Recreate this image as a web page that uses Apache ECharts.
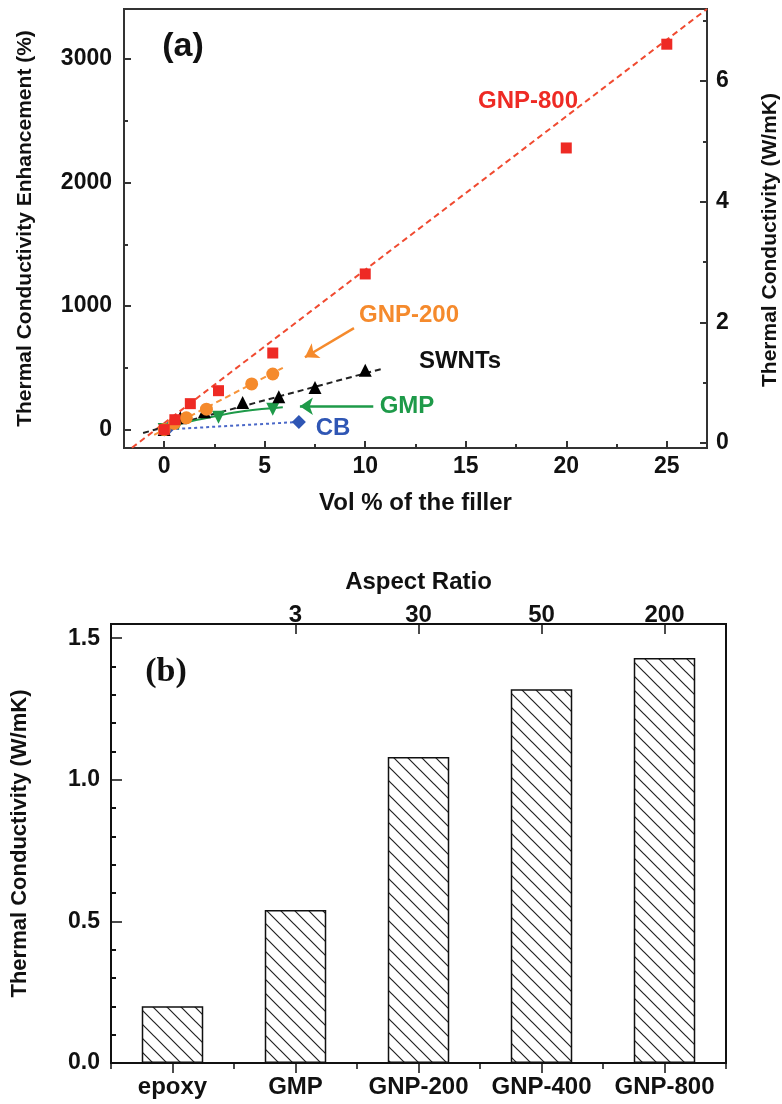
<!DOCTYPE html>
<html>
<head>
<meta charset="utf-8">
<script src="https://cdn.jsdelivr.net/npm/echarts@6/dist/echarts.min.js"></script>
<style>
html,body{margin:0;padding:0;background:#fff;}
#c{width:782px;height:1104px;}
</style>
</head>
<body>
<div id="c"></div>
<script>
// ---------------- Data: panel (a) ----------------
const gnp800X = [0, 0.53, 1.3, 2.7, 5.4, 10, 20, 25];
const gnp800Y = [0, 80, 210, 315, 620, 1260, 2280, 3120];
const gnp200X = [0, 0.5, 1.1, 2.1, 4.35, 5.4];
const gnp200Y = [0, 50, 95, 165, 370, 450];
const swntX = [0, 0.8, 2.0, 3.9, 5.7, 7.5, 10];
const swntY = [0, 95, 145, 220, 265, 340, 480];
const gmpX = [0, 0.7, 2.7, 5.4];
const gmpY = [0, 50, 100, 165];
const cbX = [0, 0.2, 6.7];
const cbY = [0, 10, 62];

// fitted guide lines
const fit800X = [-2, 27];
const fit800Y = [-196, 3405];
const fit200X = [-0.5, 5.9];
const fit200Y = [-42, 500];
const fitSwX = [-1.05, 10.9];
const fitSwY = [-27, 495];
const fitGmpX = [-0.1, 1, 2.6, 4, 5.9];
const fitGmpY = [0, 55, 110, 150, 180];
const fitCbX = [0, 6.7];
const fitCbY = [0, 62];

// annotation arrows (data coords)
const arrow200X = [9.44, 7.0];
const arrow200Y = [821, 586];
const arrowGmpX = [10.4, 6.75];
const arrowGmpY = [189, 189];

// ticks panel (a)
const xMajorA = [0, 5, 10, 15, 20, 25];
const xMinorA = [2.5, 7.5, 12.5, 17.5, 22.5];
const yLeftMajorA = [0, 1000, 2000, 3000];
const yLeftMinorA = [500, 1500, 2500];
const yRightMajorA = [0, 2, 4, 6];
const yRightMinorA = [1, 3, 5, 7];

// ---------------- Data: panel (b) ----------------
const fillers = ['epoxy', 'GMP', 'GNP-200', 'GNP-400', 'GNP-800'];
const aspectRatios = ['', '3', '30', '50', '200'];
const conductivity = [0.20, 0.54, 1.08, 1.32, 1.43];
const yMajorB = [0, 0.5, 1.0, 1.5];
const yMinorB = [0.1, 0.2, 0.3, 0.4, 0.6, 0.7, 0.8, 0.9, 1.1, 1.2, 1.3, 1.4];

// ---------------- Helpers ----------------
const FONT = '"Liberation Sans", Arial, Helvetica, sans-serif';
const zip = (xs, ys) => xs.map((x, i) => [x, ys[i]]);
const txt = (size) => ({fontSize: size, fontWeight: 'bold', color: '#111', fontFamily: FONT});
const plain = v => String(v);

function hatch() {
  const s = 14;
  const c = document.createElement('canvas');
  c.width = s; c.height = s;
  const g = c.getContext('2d');
  g.fillStyle = '#fff'; g.fillRect(0, 0, s, s);
  g.strokeStyle = '#222'; g.lineWidth = 1.2;
  g.beginPath();
  g.moveTo(-2, -2); g.lineTo(s + 2, s + 2);
  g.moveTo(-2, s - 2); g.lineTo(2, s + 2);
  g.moveTo(s - 2, -2); g.lineTo(s + 2, 2);
  g.stroke();
  return c;
}

function minorAxis(extra, values, len, color) {
  return Object.assign({
    type: 'value',
    axisLine: {show: false, onZero: false},
    axisTick: {show: true, inside: true, length: len, customValues: values, lineStyle: {color: color, width: 2}},
    axisLabel: {show: false},
    splitLine: {show: false}
  }, extra);
}

const colA = '#333';
const RED = '#ee2a24', ORANGE = '#f58a2c', GREEN = '#1e9a49', BLUE = '#2f56b4';

const chart = echarts.init(document.getElementById('c'), null, {renderer: 'canvas'});

const option = {
  animation: false,
  backgroundColor: '#fff',
  grid: [
    {left: 124, right: 75, top: 9, bottom: 656, show: true, borderColor: colA, borderWidth: 2, backgroundColor: 'transparent', outerBoundsMode: 'none'},
    {left: 111, right: 56, top: 624, bottom: 41, show: true, borderColor: '#111', borderWidth: 2, backgroundColor: 'transparent', outerBoundsMode: 'none'}
  ],
  xAxis: [
    {
      type: 'value', gridIndex: 0, min: -2, max: 27, position: 'bottom',
      axisLine: {show: true, onZero: false, lineStyle: {color: colA, width: 2}},
      axisTick: {show: true, inside: true, length: 7, customValues: xMajorA, lineStyle: {color: colA, width: 2}},
      axisLabel: Object.assign({customValues: xMajorA, margin: 7, formatter: plain}, txt(23)),
      splitLine: {show: false},
      name: 'Vol % of the filler', nameLocation: 'middle', nameGap: 43,
      nameTextStyle: txt(24)
    },
    minorAxis({gridIndex: 0, min: -2, max: 27, position: 'bottom'}, xMinorA, 4, colA),
    {
      type: 'category', gridIndex: 1, data: fillers, position: 'bottom',
      axisLine: {show: true, onZero: false, lineStyle: {color: '#111', width: 2}},
      axisTick: {show: true, alignWithLabel: true, inside: false, length: 10, lineStyle: {color: '#111', width: 1.5}},
      axisLabel: Object.assign({margin: 12, interval: 0}, txt(24)),
      splitLine: {show: false}
    },
    {
      type: 'category', gridIndex: 1, data: fillers, position: 'bottom',
      axisLine: {show: false, onZero: false},
      axisTick: {show: true, alignWithLabel: false, inside: false, length: 6, lineStyle: {color: '#111', width: 1.5}},
      axisLabel: {show: false},
      splitLine: {show: false}
    },
    {
      type: 'category', gridIndex: 1, data: aspectRatios, position: 'top',
      axisLine: {show: true, onZero: false, lineStyle: {color: '#111', width: 2}},
      axisTick: {show: true, alignWithLabel: true, inside: true, length: 10,
                 interval: function (i) { return i > 0; },
                 lineStyle: {color: '#111', width: 1.5}},
      axisLabel: Object.assign({margin: -3, interval: 0}, txt(24)),
      splitLine: {show: false},
      name: 'Aspect Ratio', nameLocation: 'middle', nameGap: 30,
      nameTextStyle: txt(24)
    }
  ],
  yAxis: [
    {
      type: 'value', gridIndex: 0, min: -149, max: 3405, position: 'left',
      axisLine: {show: true, onZero: false, lineStyle: {color: colA, width: 2}},
      axisTick: {show: true, inside: true, length: 7, customValues: yLeftMajorA, lineStyle: {color: colA, width: 2}},
      axisLabel: Object.assign({customValues: yLeftMajorA, margin: 12, formatter: plain}, txt(23)),
      splitLine: {show: false},
      name: 'Thermal Conductivity Enhancement (%)', nameLocation: 'middle', nameGap: 88,
      nameTextStyle: txt(21)
    },
    minorAxis({gridIndex: 0, min: -149, max: 3405, position: 'left'}, yLeftMinorA, 4, colA),
    {
      type: 'value', gridIndex: 0, min: -0.083, max: 7.196, position: 'right',
      axisLine: {show: true, onZero: false, lineStyle: {color: colA, width: 2}},
      axisTick: {show: true, inside: true, length: 7, customValues: yRightMajorA, lineStyle: {color: colA, width: 2}},
      axisLabel: Object.assign({customValues: yRightMajorA, margin: 9, formatter: plain}, txt(23)),
      splitLine: {show: false},
      name: 'Thermal Conductivity (W/mK)', nameLocation: 'middle', nameGap: 53,
      nameTextStyle: Object.assign({padding: [0, 23, 0, 0]}, txt(21))
    },
    minorAxis({gridIndex: 0, min: -0.083, max: 7.196, position: 'right'}, yRightMinorA, 4, colA),
    {
      type: 'value', gridIndex: 1, min: 0, max: 1.55, position: 'left',
      axisLine: {show: true, onZero: false, lineStyle: {color: '#111', width: 2}},
      axisTick: {show: true, inside: true, length: 11, customValues: yMajorB, lineStyle: {color: '#111', width: 1.5}},
      axisLabel: Object.assign({customValues: yMajorB, margin: 11, formatter: v => Number(v).toFixed(1)}, txt(23)),
      splitLine: {show: false},
      name: 'Thermal Conductivity (W/mK)', nameLocation: 'middle', nameGap: 80,
      nameTextStyle: txt(22)
    },
    minorAxis({gridIndex: 1, min: 0, max: 1.55, position: 'left'}, yMinorB, 5, '#111')
  ],
  series: [
    // guide lines
    {type: 'line', xAxisIndex: 0, yAxisIndex: 0, data: zip(fit800X, fit800Y), showSymbol: false, silent: true,
     lineStyle: {color: '#f04a30', width: 2, type: [6, 4]}, z: 1},
    {type: 'line', xAxisIndex: 0, yAxisIndex: 0, data: zip(fit200X, fit200Y), showSymbol: false, silent: true,
     lineStyle: {color: '#f7943a', width: 2, type: [6, 4]}, z: 1},
    {type: 'line', xAxisIndex: 0, yAxisIndex: 0, data: zip(fitSwX, fitSwY), showSymbol: false, silent: true,
     lineStyle: {color: '#222', width: 2, type: [6, 4]}, z: 1},
    {type: 'line', xAxisIndex: 0, yAxisIndex: 0, data: zip(fitGmpX, fitGmpY), showSymbol: false, silent: true, smooth: 0.4,
     lineStyle: {color: GREEN, width: 2, type: 'solid'}, z: 1},
    {type: 'line', xAxisIndex: 0, yAxisIndex: 0, data: zip(fitCbX, fitCbY), showSymbol: false, silent: true,
     lineStyle: {color: '#4a68c8', width: 2, type: [3, 3]}, z: 1},
    // data points
    {name: 'CB', type: 'scatter', xAxisIndex: 0, yAxisIndex: 0, data: zip(cbX, cbY),
     symbol: 'diamond', symbolSize: 14, itemStyle: {color: BLUE, opacity: 1}, silent: true},
    {name: 'GMP', type: 'scatter', xAxisIndex: 0, yAxisIndex: 0, data: zip(gmpX, gmpY),
     symbol: 'triangle', symbolRotate: 180, symbolSize: 13, itemStyle: {color: GREEN, opacity: 1}, silent: true,
     markLine: {silent: true, symbol: ['none', 'arrow'], symbolSize: 13, label: {show: false},
                lineStyle: {color: GREEN, width: 2.5, type: 'solid', opacity: 1},
                data: [[{coord: [arrowGmpX[0], arrowGmpY[0]]}, {coord: [arrowGmpX[1], arrowGmpY[1]]}]]}},
    {name: 'SWNTs', type: 'scatter', xAxisIndex: 0, yAxisIndex: 0, data: zip(swntX, swntY),
     symbol: 'triangle', symbolSize: 13, itemStyle: {color: '#000', opacity: 1}, silent: true},
    {name: 'GNP-200', type: 'scatter', xAxisIndex: 0, yAxisIndex: 0, data: zip(gnp200X, gnp200Y),
     symbol: 'circle', symbolSize: 13, itemStyle: {color: ORANGE, opacity: 1}, silent: true,
     markLine: {silent: true, symbol: ['none', 'arrow'], symbolSize: 13, label: {show: false},
                lineStyle: {color: ORANGE, width: 2.5, type: 'solid', opacity: 1},
                data: [[{coord: [arrow200X[0], arrow200Y[0]]}, {coord: [arrow200X[1], arrow200Y[1]]}]]}},
    {name: 'GNP-800', type: 'scatter', xAxisIndex: 0, yAxisIndex: 0, data: zip(gnp800X, gnp800Y),
     symbol: 'rect', symbolSize: 11, itemStyle: {color: RED, opacity: 1}, silent: true},
    // panel (b)
    {type: 'bar', xAxisIndex: 2, yAxisIndex: 4, data: conductivity, barWidth: '50%', silent: true,
     itemStyle: {color: {image: hatch(), repeat: 'repeat'}, borderColor: '#111', borderWidth: 1.5, opacity: 1}}
  ],
  graphic: [
    {type: 'text', x: 183, y: 47, silent: true,
     style: {text: '(a)', font: 'bold 34px ' + FONT, fill: '#111', align: 'center', verticalAlign: 'middle'}},
    {type: 'text', x: 528, y: 101, silent: true,
     style: {text: 'GNP-800', font: 'bold 24px ' + FONT, fill: RED, align: 'center', verticalAlign: 'middle'}},
    {type: 'text', x: 409, y: 315, silent: true,
     style: {text: 'GNP-200', font: 'bold 24px ' + FONT, fill: ORANGE, align: 'center', verticalAlign: 'middle'}},
    {type: 'text', x: 460, y: 361, silent: true,
     style: {text: 'SWNTs', font: 'bold 24px ' + FONT, fill: '#111', align: 'center', verticalAlign: 'middle'}},
    {type: 'text', x: 407, y: 406, silent: true,
     style: {text: 'GMP', font: 'bold 24px ' + FONT, fill: GREEN, align: 'center', verticalAlign: 'middle'}},
    {type: 'text', x: 333, y: 428, silent: true,
     style: {text: 'CB', font: 'bold 24px ' + FONT, fill: BLUE, align: 'center', verticalAlign: 'middle'}},
    {type: 'text', x: 166, y: 672, silent: true,
     style: {text: '(b)', font: 'bold 34px "Liberation Serif", "Times New Roman", serif', fill: '#111', align: 'center', verticalAlign: 'middle'}}
  ]
};

chart.setOption(option);
</script>
</body>
</html>
